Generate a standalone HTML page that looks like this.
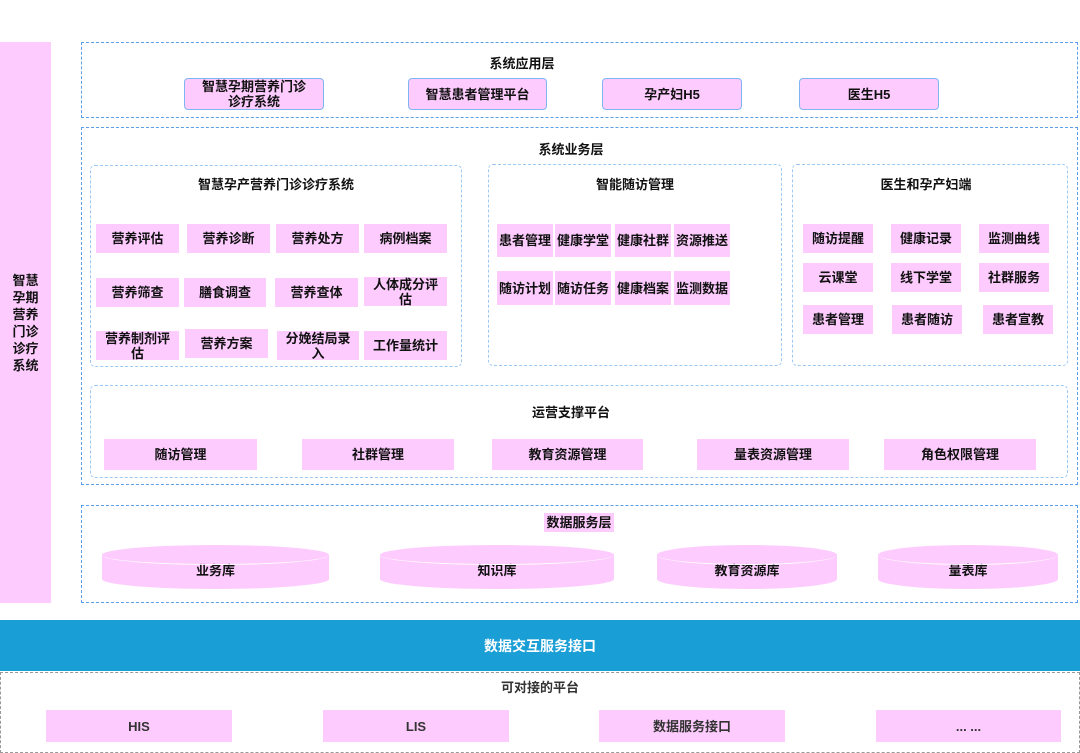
<!DOCTYPE html>
<html><head><meta charset="utf-8"><style>
body{margin:0;width:1080px;height:753px;position:relative;overflow:hidden;background:#fff;font-family:"Liberation Sans","Noto Sans CJK SC",sans-serif;color:#111;}
div{position:absolute;box-sizing:border-box;}
.d{border:1.5px dashed #5a9fe8;}
.s{border:1.5px dashed #9cc8f5;border-radius:5px;}
.p{background:#fdcbfd;display:flex;align-items:center;justify-content:center;text-align:center;font-size:13px;font-weight:bold;line-height:15px;}
.a{border:1.5px solid #7fb6f2;border-radius:4px;}
.t{font-size:13px;font-weight:bold;text-align:center;white-space:nowrap;}
.cyl{background:#fdcbfd;border-radius:50%/10px;display:flex;align-items:center;justify-content:center;font-size:13px;font-weight:bold;padding-top:4px;}
.cyl::before{content:"";position:absolute;left:0;right:0;top:0;height:19px;border-radius:50%;border-bottom:1px solid #fff;}
</style></head><body>
<div class="p" style="left:0;top:42px;width:51px;height:561px;font-size:13px;line-height:17px;padding:0 10px;">智慧孕期营养门诊诊疗系统</div>

<div class="d" style="left:81px;top:42px;width:997px;height:76px;"></div>
<div class="t" style="left:472px;top:53px;width:100px;">系统应用层</div>
<div class="p a" style="left:184px;top:78px;width:140px;height:32px;">智慧孕期营养门诊<br>诊疗系统</div>
<div class="p a" style="left:408px;top:78px;width:139px;height:32px;">智慧患者管理平台</div>
<div class="p a" style="left:602px;top:78px;width:140px;height:32px;">孕产妇H5</div>
<div class="p a" style="left:799px;top:78px;width:140px;height:32px;">医生H5</div>

<div class="d" style="left:81px;top:127px;width:997px;height:358px;"></div>
<div class="t" style="left:521px;top:139px;width:100px;">系统业务层</div>

<div class="s" style="left:90px;top:165px;width:372px;height:202px;"></div>
<div class="t" style="left:126px;top:174px;width:300px;">智慧孕产营养门诊诊疗系统</div>
<div class="p" style="left:96px;top:224px;width:83px;height:29px;">营养评估</div>
<div class="p" style="left:187px;top:224px;width:83px;height:29px;">营养诊断</div>
<div class="p" style="left:276px;top:224px;width:83px;height:29px;">营养处方</div>
<div class="p" style="left:364px;top:224px;width:83px;height:29px;">病例档案</div>
<div class="p" style="left:96px;top:278px;width:83px;height:29px;">营养筛查</div>
<div class="p" style="left:184px;top:278px;width:82px;height:29px;">膳食调查</div>
<div class="p" style="left:275px;top:278px;width:83px;height:29px;">营养查体</div>
<div class="p" style="left:364px;top:277px;width:83px;height:29px;">人体成分评<br>估</div>
<div class="p" style="left:96px;top:331px;width:83px;height:29px;">营养制剂评<br>估</div>
<div class="p" style="left:185px;top:329px;width:83px;height:29px;">营养方案</div>
<div class="p" style="left:277px;top:331px;width:82px;height:29px;">分娩结局录<br>入</div>
<div class="p" style="left:364px;top:331px;width:83px;height:29px;">工作量统计</div>

<div class="s" style="left:488px;top:164px;width:294px;height:202px;"></div>
<div class="t" style="left:585px;top:174px;width:100px;">智能随访管理</div>
<div class="p" style="left:497px;top:224px;width:56px;height:33px;">患者管理</div>
<div class="p" style="left:555px;top:224px;width:56px;height:33px;">健康学堂</div>
<div class="p" style="left:615px;top:224px;width:56px;height:33px;">健康社群</div>
<div class="p" style="left:674px;top:224px;width:56px;height:33px;">资源推送</div>
<div class="p" style="left:497px;top:271px;width:56px;height:34px;">随访计划</div>
<div class="p" style="left:555px;top:271px;width:56px;height:34px;">随访任务</div>
<div class="p" style="left:615px;top:271px;width:56px;height:34px;">健康档案</div>
<div class="p" style="left:674px;top:271px;width:56px;height:34px;">监测数据</div>

<div class="s" style="left:792px;top:164px;width:276px;height:202px;"></div>
<div class="t" style="left:876px;top:174px;width:100px;">医生和孕产妇端</div>
<div class="p" style="left:803px;top:224px;width:70px;height:29px;">随访提醒</div>
<div class="p" style="left:891px;top:224px;width:70px;height:29px;">健康记录</div>
<div class="p" style="left:979px;top:224px;width:70px;height:29px;">监测曲线</div>
<div class="p" style="left:803px;top:263px;width:70px;height:29px;">云课堂</div>
<div class="p" style="left:891px;top:263px;width:70px;height:29px;">线下学堂</div>
<div class="p" style="left:979px;top:263px;width:70px;height:29px;">社群服务</div>
<div class="p" style="left:803px;top:305px;width:70px;height:29px;">患者管理</div>
<div class="p" style="left:892px;top:305px;width:70px;height:29px;">患者随访</div>
<div class="p" style="left:983px;top:305px;width:70px;height:29px;">患者宣教</div>

<div class="s" style="left:90px;top:385px;width:978px;height:93px;"></div>
<div class="t" style="left:521px;top:402px;width:100px;">运营支撑平台</div>
<div class="p" style="left:104px;top:439px;width:153px;height:31px;">随访管理</div>
<div class="p" style="left:302px;top:439px;width:152px;height:31px;">社群管理</div>
<div class="p" style="left:492px;top:439px;width:151px;height:31px;">教育资源管理</div>
<div class="p" style="left:697px;top:439px;width:152px;height:31px;">量表资源管理</div>
<div class="p" style="left:884px;top:439px;width:152px;height:31px;">角色权限管理</div>

<div class="d" style="left:81px;top:505px;width:997px;height:98px;"></div>
<div class="p" style="left:544px;top:513px;width:70px;height:19px;white-space:nowrap;">数据服务层</div>
<div class="cyl" style="left:102px;top:545px;width:227px;height:44px;">业务库</div>
<div class="cyl" style="left:380px;top:545px;width:234px;height:44px;">知识库</div>
<div class="cyl" style="left:657px;top:545px;width:180px;height:44px;">教育资源库</div>
<div class="cyl" style="left:878px;top:545px;width:180px;height:44px;">量表库</div>

<div style="left:0;top:620px;width:1080px;height:51px;background:#1a9ed6;color:#fff;font-size:14px;font-weight:bold;display:flex;align-items:center;justify-content:center;">数据交互服务接口</div>

<div style="left:0;top:672px;width:1080px;height:81px;border:1.5px dashed #999;"></div>
<div class="t" style="left:490px;top:677px;width:100px;color:#333;">可对接的平台</div>
<div class="p" style="left:46px;top:710px;width:186px;height:32px;color:#333;">HIS</div>
<div class="p" style="left:323px;top:710px;width:186px;height:32px;color:#333;">LIS</div>
<div class="p" style="left:599px;top:710px;width:186px;height:32px;color:#333;">数据服务接口</div>
<div class="p" style="left:876px;top:710px;width:185px;height:32px;color:#333;">... ...</div>
</body></html>
